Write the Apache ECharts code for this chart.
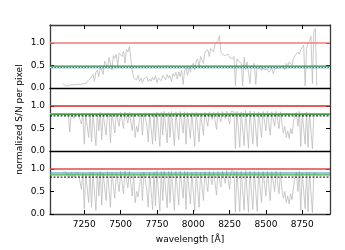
<!DOCTYPE html>
<html><head><meta charset="utf-8">
<script src="https://cdn.jsdelivr.net/npm/echarts@6/dist/echarts.min.js"></script>
<style>html,body{margin:0;padding:0;background:#fff}#c{width:345px;height:250px}</style>
</head><body><div id="c"></div>
<script>
const waveStart = 7100, waveStep = 10;
const xTicks = [7250, 7500, 7750, 8000, 8250, 8500, 8750];
const yTicks = [0.0, 0.5, 1.0];
const snTop = [
0.10,0.06,0.05,0.06,0.05,0.06,0.07,0.06,0.07,0.08,
0.08,0.09,0.08,0.10,0.09,0.12,0.10,0.15,0.12,0.20,
0.22,0.30,0.15,0.35,0.40,0.25,0.48,0.52,0.30,0.60,
0.62,0.45,0.68,0.70,0.40,0.72,0.66,0.75,0.50,0.78,
0.80,0.70,0.82,0.55,0.86,0.80,0.92,0.95,0.40,0.22,
0.25,0.18,0.28,0.15,0.22,0.12,0.20,0.17,0.25,0.14,
0.20,0.15,0.24,0.18,0.27,0.12,0.22,0.26,0.16,0.28,
0.25,0.18,0.30,0.22,0.28,0.14,0.32,0.26,0.35,0.20,
0.36,0.25,0.40,0.08,0.38,0.45,0.28,0.48,0.35,0.50,
0.55,0.40,0.60,0.65,0.45,0.70,0.72,0.55,0.80,0.78,
0.85,0.70,0.88,0.92,0.80,0.98,1.02,1.05,1.16,0.80,
0.75,0.78,0.72,0.70,0.75,0.68,0.72,0.65,0.70,0.05,
0.65,0.60,0.62,0.55,0.05,0.68,0.40,0.58,0.55,0.10,
0.50,0.45,0.55,0.08,0.48,0.42,0.50,0.38,0.45,0.40,
0.38,0.42,0.35,0.40,0.45,0.32,0.42,0.38,0.44,0.40,
0.45,0.42,0.50,0.40,0.55,0.48,0.58,0.62,0.50,0.65,
0.72,0.68,0.80,0.75,0.85,0.90,0.95,0.05,0.88,1.00,
1.05,1.15,0.10,1.25,1.32,0.05];
const snMid = [
0.82,0.84,0.80,0.83,0.81,0.42,0.84,0.82,0.72,0.83,
0.85,0.80,0.84,0.60,0.82,0.15,0.80,0.84,0.30,0.82,
0.20,0.84,0.81,0.12,0.83,0.45,0.86,0.25,0.82,0.84,
0.35,0.85,0.80,0.18,0.84,0.86,0.40,0.83,0.85,0.55,
0.86,0.84,0.50,0.87,0.85,0.62,0.86,0.84,0.45,0.80,
0.30,0.55,0.42,0.70,0.82,0.35,0.84,0.86,0.60,0.20,
0.84,0.86,0.15,0.85,0.22,0.87,0.84,0.10,0.86,0.35,
0.88,0.85,0.18,0.86,0.30,0.88,0.84,0.12,0.87,0.86,
0.25,0.88,0.85,0.40,0.87,0.15,0.86,0.88,0.28,0.85,
0.87,0.10,0.86,0.88,0.20,0.85,0.87,0.35,0.86,0.88,
0.55,0.87,0.89,0.70,0.86,0.88,0.48,0.87,0.89,0.65,
0.88,0.86,0.72,0.89,0.87,0.60,0.88,0.90,0.87,0.05,
0.88,0.90,0.08,0.87,0.89,0.12,0.90,0.88,0.06,0.89,
0.91,0.15,0.88,0.90,0.10,0.87,0.89,0.30,0.88,0.90,
0.45,0.88,0.89,0.35,0.87,0.90,0.55,0.88,0.86,0.50,
0.87,0.60,0.40,0.55,0.30,0.45,0.28,0.50,0.38,0.65,
0.80,0.86,0.55,0.88,0.10,0.85,0.87,0.15,0.86,0.08,
0.85,0.87,0.05,0.84,0.86,0.82];
const snBot = [
0.92,0.90,0.94,0.86,0.91,0.80,0.93,0.89,0.82,0.92,
0.94,0.90,0.93,0.55,0.91,0.12,0.90,0.94,0.25,0.92,
0.15,0.93,0.90,0.08,0.92,0.40,0.95,0.20,0.91,0.93,
0.30,0.94,0.90,0.15,0.93,0.95,0.35,0.92,0.94,0.50,
0.95,0.93,0.45,0.96,0.94,0.58,0.95,0.92,0.40,0.88,
0.25,0.50,0.38,0.65,0.90,0.30,0.93,0.95,0.55,0.15,
0.93,0.95,0.10,0.94,0.18,0.96,0.93,0.06,0.95,0.30,
0.96,0.94,0.14,0.95,0.25,0.96,0.93,0.08,0.95,0.94,
0.20,0.96,0.93,0.35,0.95,0.10,0.94,0.96,0.22,0.93,
0.95,0.06,0.94,0.96,0.15,0.93,0.95,0.30,0.94,0.96,
0.50,0.95,0.97,0.65,0.94,0.96,0.42,0.95,0.97,0.60,
0.96,0.94,0.68,0.97,0.95,0.55,0.96,0.97,0.95,0.04,
0.96,0.97,0.05,0.95,0.97,0.08,0.97,0.96,0.04,0.96,
0.97,0.10,0.95,0.97,0.06,0.94,0.96,0.25,0.95,0.97,
0.40,0.95,0.96,0.30,0.94,0.97,0.50,0.95,0.93,0.45,
0.94,0.55,0.35,0.50,0.25,0.40,0.22,0.45,0.32,0.60,
0.85,0.93,0.50,0.95,0.08,0.92,0.94,0.12,0.93,0.05,
0.92,0.94,0.03,0.91,0.93,0.90];
const levelsTop = {red: 1.0, green: 0.485, blue: 0.455};
const levelsMid = {red: 1.0, blue: 0.83, green: 0.81, black: 0.78};
const levelsBot = {red: 1.0, blue: 0.91, green: 0.87, black: 0.82};

const X_MIN = 7014, X_MAX = 8941;
const FONT = 'DejaVu Sans';
const frame = '#3a3a3a';

function pts(vals){ return vals.map((v,i)=>[waveStart + i*waveStep, v]); }

const grids = [25, 88, 151].map(t => ({left: 50, right: 15, top: t, height: 63, show: false, outerBoundsMode: 'none'}));

function xAx(gi, pos, opts){
  return Object.assign({
    type: 'value', gridIndex: gi, position: pos, min: X_MIN, max: X_MAX,
    splitLine: {show: false},
    axisLine: {show: true, onZero: false, lineStyle: {color: frame, width: 1.3}},
    axisTick: {show: false},
    axisLabel: {show: false}
  }, opts || {});
}
const xAxes = [
  xAx(0, 'bottom', {axisLine: {show: true, onZero: false, lineStyle: {color: '#000', width: 1.3}}}),
  xAx(1, 'bottom', {axisLine: {show: true, onZero: false, lineStyle: {color: '#000', width: 1.3}}}),
  xAx(2, 'bottom', {
    axisTick: {show: true, inside: true, length: 4, customValues: xTicks, lineStyle: {color: '#000', width: 1}},
    axisLabel: {show: true, customValues: xTicks, margin: 6, fontFamily: FONT, fontSize: 9, color: '#000',
      formatter: v => String(Math.round(v))},
    name: 'wavelength [Å]', nameLocation: 'middle', nameGap: 21, nameMoveOverlap: false,
    nameTextStyle: {fontFamily: FONT, fontSize: 9, color: '#000'}
  }),
  xAx(0, 'top', {
    axisTick: {show: true, inside: true, length: 4, customValues: xTicks, lineStyle: {color: '#000', width: 1}}
  })
];

const yAxes = [];
[0,1,2].forEach(gi => {
  yAxes.push({
    type: 'value', gridIndex: gi, position: 'left', min: 0, max: 1.4,
    splitLine: {show: false},
    axisLine: {show: true, onZero: false, lineStyle: {color: frame, width: 1.3}},
    axisTick: {show: true, inside: true, length: 4, customValues: yTicks, lineStyle: {color: '#000'}},
    axisLabel: {show: true, customValues: yTicks, margin: 5, fontFamily: FONT, fontSize: 9, color: '#000',
      formatter: v => Number(v).toFixed(1)},
    name: gi === 1 ? 'normalized S/N per pixel' : '',
    nameLocation: 'middle', nameGap: 26, nameMoveOverlap: false,
    nameTextStyle: {fontFamily: FONT, fontSize: 9, color: '#000'}
  });
  yAxes.push({
    type: 'value', gridIndex: gi, position: 'right', min: 0, max: 1.4,
    splitLine: {show: false},
    axisLine: {show: true, onZero: false, lineStyle: {color: frame, width: 1.3}},
    axisTick: {show: true, inside: true, length: 4, customValues: yTicks, lineStyle: {color: '#000'}},
    axisLabel: {show: false}
  });
});

function spec(vals, gi){
  return {
    type: 'line', xAxisIndex: gi, yAxisIndex: gi*2, data: pts(vals), z: 2,
    showSymbol: false, symbol: 'none', animation: false, silent: true,
    lineStyle: {color: '#bdbdbd', width: 0.8}
  };
}
function hline(level, gi, color, width, type){
  return {
    type: 'line', xAxisIndex: gi, yAxisIndex: gi*2, z: 10, silent: true,
    data: [[X_MIN, level], [X_MAX, level]],
    showSymbol: false, symbol: 'none', animation: false,
    lineStyle: {color: color, width: width, type: type}
  };
}

const option = {
  animation: false,
  grid: grids,
  xAxis: xAxes,
  yAxis: yAxes,
  series: [
    spec(snTop, 0), spec(snMid, 1), spec(snBot, 2),
    hline(levelsTop.red, 0, '#f07a7a', 1.4, 'solid'),
    hline(levelsTop.green, 0, '#2f9a2f', 1.3, 'solid'),
    hline(levelsTop.blue, 0, '#4a78b5', 1.6, 'solid'),
    hline(levelsTop.blue, 0, '#ffffff', 0.8, [1.5, 1.5]),
    hline(levelsMid.red, 1, '#d62728', 1.6, 'solid'),
    hline(levelsMid.blue, 1, '#7aa6d6', 1.2, 'solid'),
    hline(levelsMid.green, 1, '#3a9a3a', 1.0, 'solid'),
    hline(levelsMid.black, 1, '#000000', 1.0, [2, 1.5]),
    hline(levelsBot.red, 2, '#e04848', 1.3, 'solid'),
    hline(levelsBot.blue, 2, '#3a8ad0', 1.1, 'solid'),
    hline(levelsBot.green, 2, '#3fae3f', 1.1, 'solid'),
    hline(levelsBot.black, 2, '#000000', 1.0, [2, 1.5])
  ]
};
const chart = echarts.init(document.getElementById('c'), null, {renderer: 'canvas'});
chart.setOption(option);
</script></body></html>
